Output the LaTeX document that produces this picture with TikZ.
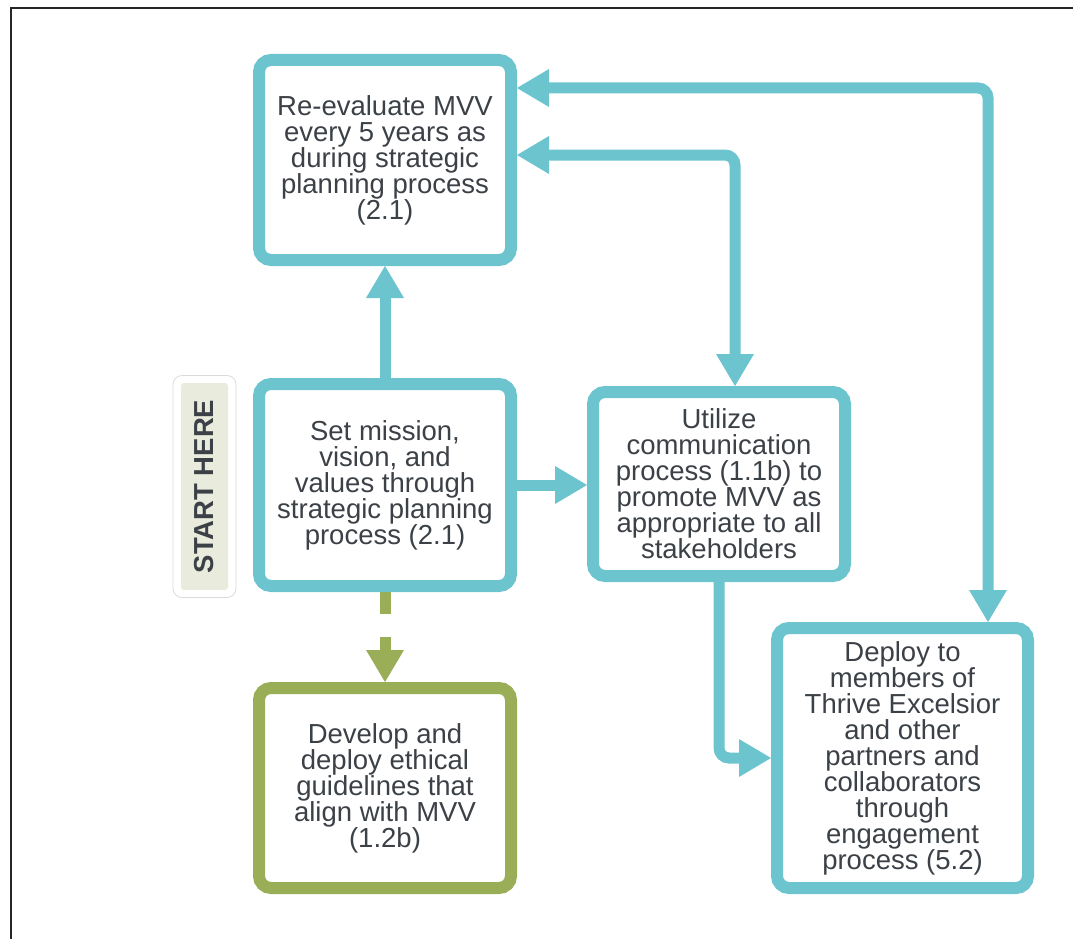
\documentclass[tikz,border=0pt]{standalone}
\usepackage{fontspec}
\setmainfont{Liberation Sans}
\usetikzlibrary{arrows.meta}

\definecolor{mvvteal}{HTML}{6CC4CE}
\definecolor{mvvgreen}{HTML}{9AAD57}
\definecolor{mvvtext}{HTML}{3C4147}
\definecolor{mvvstart}{HTML}{E9ECDC}

\begin{document}
\begin{tikzpicture}[x=1pt, y=-1pt,
        mvvbox/.style={draw=mvvteal, line width=12pt, rounded corners=12pt,
            fill=white, align=center, text=mvvtext, inner sep=0pt,
            font=\fontsize{27.5}{26}\selectfont},
        flow/.style={draw=mvvteal, line width=11pt, rounded corners=10pt},
        >={Triangle[width=38pt, length=32pt, line width=0pt]}
    ]
            % 1. Keret
            \useasboundingbox (0,0) rectangle (1073,939);
            \draw[line width=1.2pt, black!85] (11,939) -- (11,8) -- (1073,8);

            % 2. Dobozok
            \node[mvvbox, minimum width=252, minimum height=200] (reeval) at (385,160)
                {Re-evaluate MVV\\every 5 years as\\during strategic\\planning process\\(2.1)};
            \node[mvvbox, minimum width=252, minimum height=202] (set) at (385,485)
                {Set mission,\\vision, and\\values through\\strategic planning\\process (2.1)};
            \node[mvvbox, draw=mvvgreen, minimum width=252, minimum height=200] (ethics) at (385,788)
                {Develop and\\deploy ethical\\guidelines that\\align with MVV\\(1.2b)};
            \node[mvvbox, minimum width=252, minimum height=184] (util) at (719,484)
                {Utilize\\communication\\process (1.1b) to\\promote MVV as\\appropriate to all\\stakeholders};
            \node[mvvbox, minimum width=251, minimum height=260] (deploy) at (902.5,758)
                {Deploy to\\members of\\Thrive Excelsior\\and other\\partners and\\collaborators\\through\\engagement\\process (5.2)};

            % 3. Start felirat
            \node[
                draw=black!14,
                line width=0.8pt,
                rounded corners=9pt,
                rotate=90,
                minimum width=222,
                minimum height=63
            ] (startframe) at (204.5,486.5) {};
            \node[
                fill=mvvstart,
                rounded corners=3pt,
                rotate=90,
                minimum width=207,
                minimum height=47,
                text=mvvtext,
                font=\fontsize{27.5}{26}\selectfont\bfseries
            ] (start) at (204.5,486.5) {START HERE};

            % 4. Nyilak
            \draw[flow, ->] (set.north) -- (reeval.south);
            \draw[flow, ->, draw=mvvgreen, dash pattern=on 22pt off 23pt] (set.south) -- (ethics.north);
            \draw[flow, ->] (set.east) -- (set.east -| util.west);
            \draw[flow, <->] ([yshift=5pt]reeval.east) -| ([xshift=16pt]util.north);
            \draw[flow, <->] ([yshift=72pt]reeval.east) -| ([xshift=85.5pt]deploy.north);
            \draw[flow, ->] (util.south) |- (deploy.west);
        \end{tikzpicture}
\end{document}
